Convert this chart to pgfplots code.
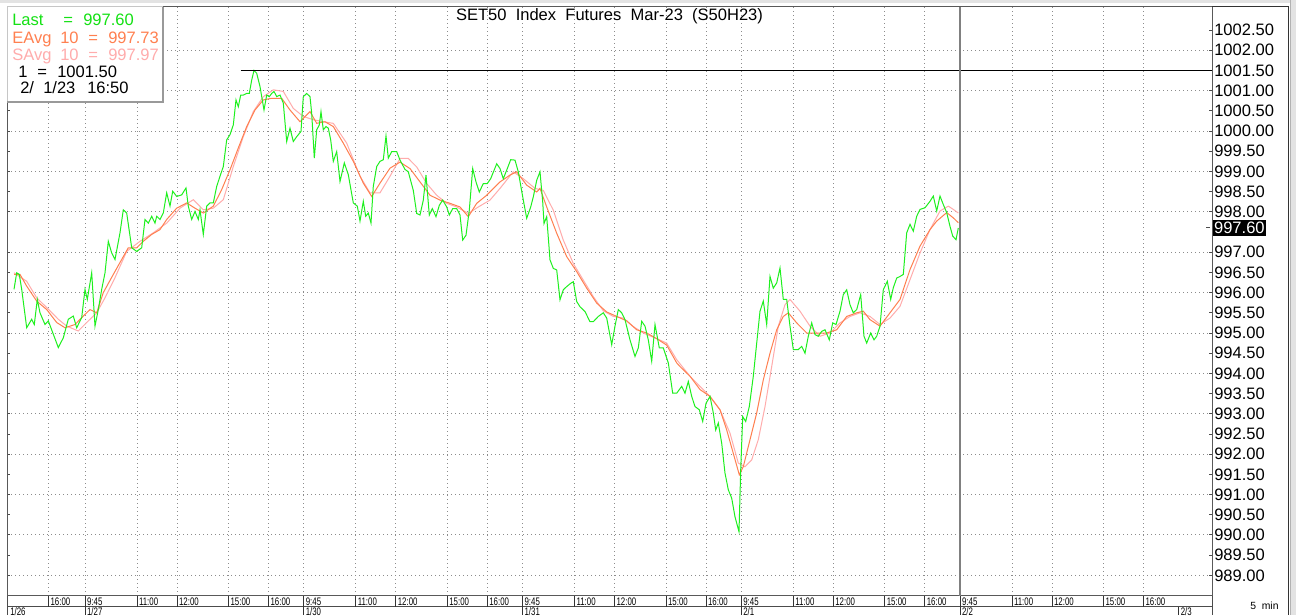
\documentclass[border=0pt]{standalone}
\usepackage{fontspec}
\setmainfont{Liberation Sans}
\usepackage{graphicx}
\usepackage{pgfplots}
\pgfplotsset{compat=1.18}
\definecolor{lastgreen}{RGB}{30,240,30}
\definecolor{lasttxt}{RGB}{20,225,20}
\definecolor{eavg}{RGB}{255,128,80}
\definecolor{savg}{RGB}{255,172,172}
\definecolor{gridc}{RGB}{140,140,140}
\newcommand{\lf}{\fontsize{12.4}{14}\selectfont}
\newcommand{\tf}[1]{\scalebox{0.72}[1]{\fontsize{8.2}{9}\selectfont #1}}
\begin{document}
\begin{tikzpicture}
\begin{scope}[x=0.75pt,y=-0.75pt,shift={(0pt,461.25pt)}]
\useasboundingbox (0,0) rectangle (1296,615);
\fill[white] (0,0) rectangle (1296,615);
\fill[gray!22] (0,0) rectangle (1296,3);
\fill[gray!22] (1291,0) rectangle (1296,615);
\draw[gray!60] (1290.5,0) -- (1290.5,615);
\end{scope}
\begin{axis}[
  at={(5.25pt,14.25pt)}, anchor=south west,
  scale only axis, width=903.75pt, height=441.75pt,
  xmin=7, xmax=1212, ymin=988.49, ymax=1003.07,
  axis line style={draw=black!65, line width=0.75pt},
  xtick={48.5,85,137,177,228.5,268.5,303.75,355.75,395.75,447.25,487.25,522.5,574.5,614.5,666,706,741.25,793.25,833.25,884.75,924.75,1012,1052,1103.5,1143.5},
  xticklabels={}, major x tick style={draw=none},
  xmajorgrids,
  x grid style={gridc, line width=0.75pt, dash pattern=on 0.75pt off 2.25pt},
  ytick={989,989.5,990,990.5,991,991.5,992,992.5,993,993.5,994,994.5,995,995.5,996,996.5,997,998,998.5,999,999.5,1000,1000.5,1001,1001.5,1002,1002.5},
  minor ytick={989,990,991,992,993,994,995,996,997,998,999,1000,1001,1002},
  yminorgrids=true,
  minor y grid style={gridc, line width=0.75pt, dash pattern=on 0.75pt off 2.25pt},
  minor tick length=0pt,
  major tick length=2.25pt,
  major y tick style={black!70, line width=0.75pt},
  scaled y ticks=false,
  yticklabel pos=right,
  yticklabel style={anchor=west, inner sep=0pt, xshift=1.5pt, font=\lf, text=black,
    /pgf/number format/.cd, fixed, fixed zerofill, precision=2, 1000 sep={}, assume math mode=true},
  clip=true,
]
\addplot[savg, line width=0.75pt] coordinates {
(14,996.49) (26.7,996.28) (36.7,995.87) (46.7,995.63) (58.3,995.34) (66.7,995.17) (78.3,995.05) (86.7,995.26) (96.7,995.50) (105,995.87) (115,996.37) (126.7,997.02) (140,997.27) (153.3,997.48) (166.7,997.72) (180,998.09) (193.3,998.30) (203.3,998.05) (213.3,998.09) (223.3,998.30) (233.3,999.12) (243.3,999.86) (253.3,1000.48) (263.3,1000.85) (273.3,1001.02) (283.3,1000.98) (293.3,1000.56) (303.3,1000.36) (313.3,1000.28) (323.3,1000.23) (333.3,1000.19) (346.7,999.70) (360,998.88) (370,998.47) (380,998.47) (390,998.88) (400,999.32) (408.3,999.32) (416.7,999.11) (426.7,998.70) (436.7,998.41) (446.7,998.21) (456.7,998.12) (468.3,997.96) (478.3,998.12) (490,998.29) (500,998.58) (513.3,998.99) (523.3,998.82) (535,998.58) (543.3,998.53) (553.3,998.04) (563.3,997.30) (573.3,996.72) (583.3,996.31) (593.3,995.90) (603.3,995.55) (613.3,995.41) (623.3,995.37) (633.3,995.16) (643.3,995.00) (656.7,994.86) (666.7,994.75) (676.7,994.34) (690,993.93) (700,993.68) (710,993.43) (720,993.10) (730,992.52) (738.3,991.78) (745,991.69) (751.7,991.86) (758.3,992.36) (765,993.18) (771.7,994.17) (778.3,995.17) (785,995.70) (790,995.83) (800,995.54) (810,995.17) (820,994.92) (830,995.00) (840,995.25) (850,995.41) (860,995.50) (870,995.41) (880,995.21) (890,995.37) (900,995.66) (910,996.32) (920,996.98) (930,997.56) (940,998.02) (948.3,998.14) (953.3,998.06) (958.3,997.97)
};
\addplot[eavg, line width=0.75pt] coordinates {
(14,996.45) (20,996.45) (26.7,996.16) (36.7,995.79) (46.7,995.58) (56.7,995.26) (65,995.13) (75,995.21) (81.7,995.38) (90,995.58) (96.7,995.50) (103.3,996.00) (113.3,996.45) (121.7,996.82) (128.3,997.11) (136.7,997.11) (143.3,997.27) (151.7,997.44) (160,997.56) (166.7,997.81) (176.7,998.09) (186.7,998.22) (195,998.09) (203.3,997.97) (213.3,998.14) (221.7,998.55) (230,999.04) (238.3,999.58) (246.7,1000.11) (255,1000.52) (263.3,1000.77) (271.7,1000.81) (281.7,1000.81) (290,1000.52) (300,1000.23) (310,1000.48) (316.7,1000.19) (325,1000.23) (333.3,1000.11) (343.3,999.70) (353.3,999.25) (363.3,998.71) (371.7,998.38) (380,998.71) (390,999.08) (400,999.23) (410,999.07) (420,998.74) (430,998.41) (440,998.29) (450,998.21) (460,998.12) (468.3,997.88) (476.7,998.21) (486.7,998.41) (500,998.74) (510,998.91) (516.7,998.99) (526.7,998.66) (536.7,998.49) (540,998.58) (546.7,998.12) (556.7,997.47) (566.7,996.89) (576.7,996.52) (586.7,996.11) (596.7,995.74) (606.7,995.52) (616.7,995.41) (626.7,995.30) (636.7,995.08) (646.7,995.00) (656.7,994.86) (666.7,994.70) (676.7,994.26) (680,994.17) (690,993.93) (700,993.60) (710,993.43) (720,993.10) (726.7,992.60) (733.3,992.02) (739.3,991.49) (743.3,991.69) (750,992.36) (756.7,993.02) (763.3,993.84) (770,994.50) (776.7,995.08) (783.3,995.41) (788.3,995.50) (796.7,995.25) (806.7,995.00) (816.7,995.00) (826.7,995.00) (836.7,995.08) (846.7,995.41) (856.7,995.50) (863.3,995.54) (870,995.33) (880,995.17) (890,995.50) (900,995.83) (910,996.57) (920,997.15) (930,997.56) (936.7,997.77) (946.7,997.98) (953.3,997.85) (958.3,997.73)
};
\addplot[lastgreen, line width=0.75pt] coordinates {
(14,996.08) (16.7,996.49) (19.3,996.45) (21.7,996.08) (26.7,995.13) (31.7,995.34) (34.3,995.21) (37.3,995.83) (40,995.50) (45,995.21) (48.3,995.30) (52.7,995.01) (58.3,994.64) (63.3,994.88) (68.3,995.34) (73.3,995.42) (76.7,995.13) (81.7,995.38) (85,996.08) (87.3,995.83) (91.7,996.49) (95,995.17) (98.3,995.58) (101.7,996.08) (105,996.49) (108.3,997.27) (111.7,996.98) (115,996.82) (120,997.48) (123.3,998.05) (126.7,997.97) (131.7,997.11) (136.7,997.02) (141.7,997.11) (145,997.81) (148.3,997.72) (151.7,997.89) (155,997.72) (156.7,997.89) (160,997.81) (163.3,997.97) (166.7,998.47) (170,998.14) (172.7,998.51) (176.7,998.38) (181.7,998.42) (186,998.59) (188.3,998.14) (191.7,997.81) (195,998.01) (198.3,997.81) (200,998.05) (203.3,997.44) (206.7,998.14) (210,998.22) (213.3,998.22) (216.7,998.63) (220,998.88) (223.3,999.12) (226.7,999.78) (230,999.91) (233.3,1000.15) (236,1000.77) (238.3,1000.60) (240.7,1000.89) (243.3,1000.89) (246.7,1000.93) (249.3,1000.93) (251.7,1001.26) (254,1001.50) (256.7,1001.43) (260,1001.10) (264,1000.52) (266.7,1000.89) (269.3,1000.85) (271.7,1000.93) (274,1000.98) (276.7,1000.85) (280,1000.89) (283.3,1000.69) (286.7,999.74) (290,1000.07) (293.3,999.74) (296.7,999.86) (301,999.99) (303.3,1000.85) (306.7,1000.93) (310,1000.85) (311.7,1000.44) (314.3,999.33) (316.7,1000.03) (319.3,1000.15) (321,1000.48) (323.3,1000.03) (326,1000.11) (328.3,1000.07) (330.7,999.78) (333.3,999.25) (336.7,999.49) (340,998.75) (344.3,999.21) (348.3,998.92) (353.3,998.22) (357.3,998.14) (360,997.77) (363.3,998.26) (365.7,997.89) (368.3,997.97) (371,997.72) (373.3,998.63) (376.7,999.12) (380,999.25) (383.3,999.29) (386,999.88) (388.3,999.33) (391.7,999.49) (396.7,999.49) (400,999.28) (405,999.05) (408.3,998.99) (413.3,998.53) (416.7,997.96) (420,997.92) (423.3,998.29) (426,998.91) (429.3,997.92) (432.3,998.08) (436,997.88) (439.3,998.16) (442.7,998.29) (446.7,998.12) (449.3,997.92) (452.7,998.08) (456.7,998.08) (460,997.92) (462.7,997.30) (466,997.42) (469.3,998.04) (472.7,999.07) (476,998.74) (479.3,998.49) (483.3,998.70) (487.3,998.70) (490.7,998.82) (496.7,999.19) (500,999.07) (503.3,998.82) (507.3,999.07) (510.7,999.29) (515,999.28) (518.3,998.99) (523.3,998.29) (526.7,997.84) (530.7,998.12) (533.3,998.37) (536.7,998.78) (540,998.99) (542.7,998.25) (544,997.71) (546.7,997.88) (550,996.81) (553.3,996.60) (556.7,996.56) (560,995.82) (563.3,996.07) (566.7,996.15) (570.7,996.23) (573.3,996.27) (576.7,995.78) (580,995.65) (585,995.53) (590,995.28) (593.3,995.28) (598.3,995.41) (603.3,995.50) (606.7,995.37) (611.7,994.71) (615,995.17) (618.3,995.58) (621.7,995.50) (625,995.33) (630,994.83) (635,994.42) (638.3,994.63) (641.7,995.29) (645,995.17) (648.3,994.83) (651.7,994.30) (655,995.21) (659.3,994.63) (663.3,994.63) (668.3,994.26) (672.7,993.51) (676.7,993.51) (681.7,993.68) (685,993.51) (688.3,993.80) (691.7,993.43) (695,993.18) (699.3,993.10) (702.7,992.81) (706,993.26) (710,993.43) (713.3,993.02) (715.7,992.60) (718.3,992.77) (721.7,992.27) (725,991.53) (728.3,991.12) (731.7,990.91) (735,990.45) (739,990.08) (740.7,991.61) (742.7,992.93) (745.7,992.81) (749.3,993.18) (753.3,993.93) (756.7,994.75) (760,995.54) (763.3,995.79) (766.7,995.21) (770,996.40) (773.3,996.11) (776.7,996.24) (780,996.61) (783.3,995.83) (786.7,995.83) (790,995.17) (793.3,994.59) (798.3,994.59) (801.7,994.67) (805,994.50) (808.3,994.92) (811.7,995.25) (815,994.96) (818.3,994.92) (821.7,995.04) (825,995.08) (829.3,994.83) (832.7,995.25) (836,995.21) (840,995.54) (843.3,995.95) (846.7,996.07) (850,995.70) (853.3,995.50) (856.7,995.58) (860.7,995.95) (864,994.92) (866.7,994.75) (870.7,995.00) (874,994.83) (876.7,994.92) (880,995.17) (883.3,996.07) (887.3,996.28) (890.7,995.83) (893.3,996.12) (896.7,996.36) (900,996.40) (903.3,996.45) (906.7,997.48) (910,997.69) (913.3,997.52) (916.7,997.89) (920,998.06) (925,998.10) (930,998.26) (933.3,998.39) (936.7,998.02) (940,998.39) (943.3,998.18) (946.7,997.98) (950,997.64) (952.7,997.40) (956,997.31) (958.3,997.60)
};
\addplot[black, line width=0.75pt] coordinates {(240.7,1001.5) (1212,1001.5)};
\draw[black!50, line width=1.5pt] (axis cs:959.5,988.49) -- (axis cs:959.5,1003.07);
\end{axis}
\begin{scope}[x=0.75pt,y=-0.75pt,shift={(0pt,461.25pt)}]
% title
\node[font=\lf, inner sep=0pt] at (609.5,16) {SET50\ \ Index\ \ Futures\ \ Mar-23\ \ (S50H23)};
% legend box
\fill[white] (7,7) rectangle (163,102);
\draw[gray!45, line width=0.75pt] (7,102) -- (7,7) -- (163,7);
\draw[gray!80, line width=1.2pt] (163,7) -- (163,102) -- (7,102);
\begin{scope}[every node/.style={anchor=base west, inner sep=0pt, font=\lf}]
\node[text=lasttxt] at (12,26) {Last};
\node[text=lasttxt] at (63,26) {=};
\node[text=lasttxt] at (83,26) {997.60};
\node[text=eavg] at (12,44) {EAvg};
\node[text=eavg] at (60,44) {10};
\node[text=eavg] at (88,44) {=};
\node[text=eavg] at (108,44) {997.73};
\node[text=savg] at (12,61) {SAvg};
\node[text=savg] at (60,61) {10};
\node[text=savg] at (88,61) {=};
\node[text=savg] at (108,61) {997.97};
\node at (18,77.5) {1};
\node at (37,77.5) {=};
\node at (57,77.5) {1001.50};
\node at (20,94) {2/};
\node at (43,94) {1/23};
\node at (87,94) {16:50};
\end{scope}
% bottom band
\draw[black!70, line width=0.75pt] (7,607) -- (1212,607);
\draw[black!70, line width=0.75pt] (1212,596) -- (1212,615);
\draw[black!70, line width=0.75pt] (7,596) -- (7,615);
\foreach \x/\t in {48.5/16:00,85/9:45,137/11:00,177/12:00,228.5/15:00,268.5/16:00,303.75/9:45,355.75/11:00,395.75/12:00,447.25/15:00,487.25/16:00,522.5/9:45,574.5/11:00,614.5/12:00,666/15:00,706/16:00,741.25/9:45,793.25/11:00,833.25/12:00,884.75/15:00,924.75/16:00,960/9:45,1012/11:00,1052/12:00,1103.5/15:00,1143.5/16:00}{
  \draw[black!80, line width=0.75pt] (\x,596) -- (\x,607);
  \node[anchor=west, inner sep=0pt] at (\x+1.8,601.8) {\tf{\t}};
}
\foreach \x in {85,303.75,522.5,741.25,960,1178.75}{
  \draw[black!80, line width=0.75pt] (\x,607) -- (\x,615);
}
\node[anchor=west, inner sep=0pt] at (10,611.5) {\tf{1/26}};
\node[anchor=west, inner sep=0pt] at (86.8,611.5) {\tf{1/27}};
\node[anchor=west, inner sep=0pt] at (305.5,611.5) {\tf{1/30}};
\node[anchor=west, inner sep=0pt] at (524.3,611.5) {\tf{1/31}};
\node[anchor=west, inner sep=0pt] at (743,611.5) {\tf{2/1}};
\node[anchor=west, inner sep=0pt] at (961.8,611.5) {\tf{2/2}};
\node[anchor=west, inner sep=0pt] at (1180.5,611.5) {\tf{2/3}};
% right panel
\draw[black!80, line width=0.75pt] (1212,7) -- (1288,7) -- (1288,615);
\node[fill=black, text=white, anchor=west, inner xsep=1pt, inner ysep=1.5pt, font=\lf] at (1212.5,228) {997.60};
\draw[black!70, line width=0.75pt] (1206,228) -- (1210,228);
\node[anchor=west, inner sep=0pt, font=\fontsize{7.8}{9}\selectfont] at (1250,606) {5\ \ min};
\end{scope}
\end{tikzpicture}
\end{document}
